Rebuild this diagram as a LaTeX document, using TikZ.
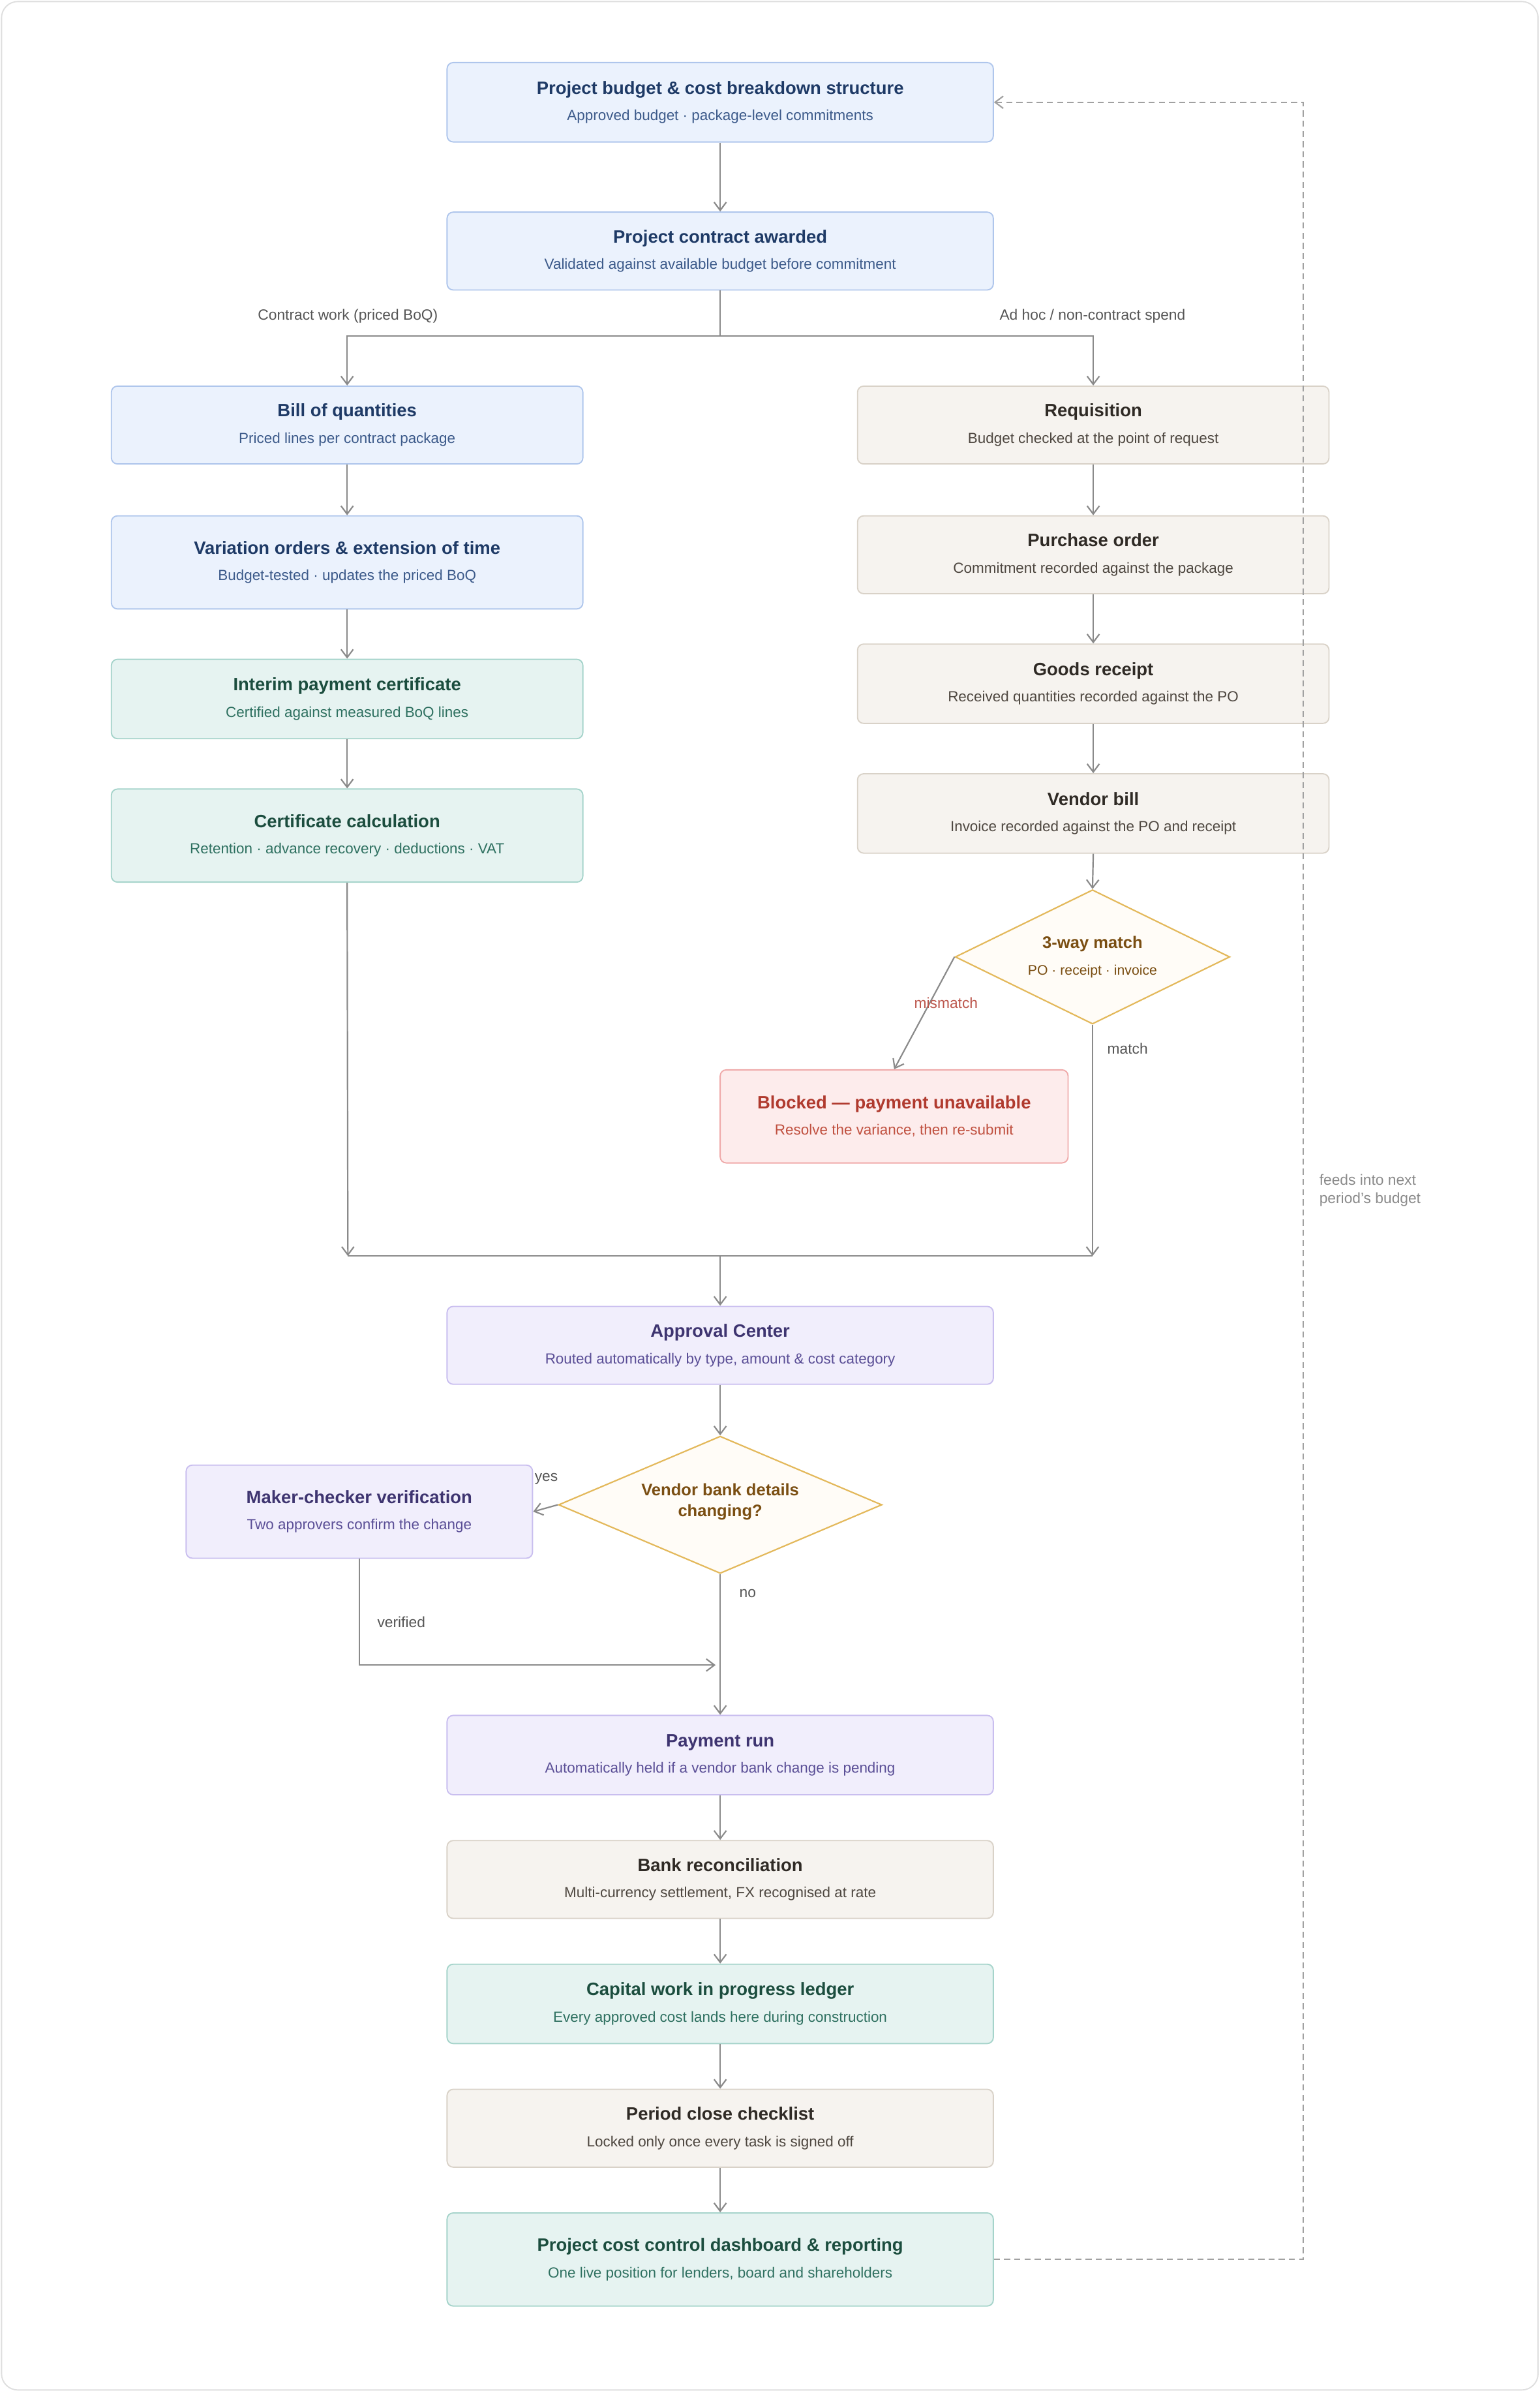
\documentclass[tikz,border=0pt]{standalone}
\usepackage{fontspec}
\setmainfont{Liberation Sans}
\usetikzlibrary{shapes.geometric,arrows.meta}
\definecolor{bF}{HTML}{EBF2FD}\definecolor{bD}{HTML}{AFC6EC}\definecolor{bT}{HTML}{1E3A66}\definecolor{bS}{HTML}{3C5A8A}
\definecolor{gF}{HTML}{E6F3F1}\definecolor{gD}{HTML}{A6D4CB}\definecolor{gT}{HTML}{1B4D3E}\definecolor{gS}{HTML}{2E7060}
\definecolor{eF}{HTML}{F6F3EF}\definecolor{eD}{HTML}{D9D2C8}\definecolor{eT}{HTML}{2F2A25}\definecolor{eS}{HTML}{4E4740}
\definecolor{pF}{HTML}{F1EEFC}\definecolor{pD}{HTML}{C9BEEF}\definecolor{pT}{HTML}{3E3470}\definecolor{pS}{HTML}{5A4E96}
\definecolor{rF}{HTML}{FDECEC}\definecolor{rD}{HTML}{EFA9A9}\definecolor{rT}{HTML}{B03A2E}\definecolor{rS}{HTML}{C0503F}
\definecolor{dF}{HTML}{FFFCF7}\definecolor{dD}{HTML}{E3B85A}\definecolor{dT}{HTML}{7A4E12}
\definecolor{ln}{HTML}{8A8A8A}\definecolor{lb}{HTML}{555555}
\newcommand{\bx}[8]{\node[box,fill=#6F,draw=#6D,minimum width={#4*0.75pt},minimum height={#5*0.75pt}] (#1) at (#2,#3)
 {{\fontsize{8.8}{11}\selectfont\bfseries\color{#6T}#7}\\[1pt]{\fontsize{7.2}{9}\selectfont\color{#6S}#8}};}
\begin{document}
\begin{tikzpicture}[x=0.75pt,y=-0.75pt,
 box/.style={rounded corners=3pt,line width=0.6pt,align=center,inner sep=0pt},
 dia/.style={diamond,fill=dF,draw=dD,line width=0.7pt,inner sep=0pt},
 ar/.style={draw=ln,line width=0.7pt,-{Straight Barb[length=4pt,width=6pt]}},
 pl/.style={draw=ln,line width=0.7pt},
 lab/.style={font=\fontsize{7.3}{9}\selectfont,text=lb}]
\useasboundingbox (0,0) rectangle (1009,1568);
\draw[draw=black!13,line width=0.6pt,rounded corners=8pt] (1,1) rectangle (1008,1566);
\bx{budget}{472}{67}{358}{52}{b}{Project budget \& cost breakdown structure}{Approved budget · package-level commitments}
\bx{contract}{472}{164.5}{358}{51}{b}{Project contract awarded}{Validated against available budget before commitment}
\bx{boq}{227.5}{278.5}{309}{51}{b}{Bill of quantities}{Priced lines per contract package}
\bx{vo}{227.5}{368.5}{309}{61}{b}{Variation orders \& extension of time}{Budget-tested · updates the priced BoQ}
\bx{ipc}{227.5}{458}{309}{52}{g}{Interim payment certificate}{Certified against measured BoQ lines}
\bx{cert}{227.5}{547.5}{309}{61}{g}{Certificate calculation}{Retention · advance recovery · deductions · VAT}
\bx{req}{716.5}{278.5}{309}{51}{e}{Requisition}{Budget checked at the point of request}
\bx{po}{716.5}{363.5}{309}{51}{e}{Purchase order}{Commitment recorded against the package}
\bx{gr}{716.5}{448}{309}{52}{e}{Goods receipt}{Received quantities recorded against the PO}
\bx{vb}{716.5}{533}{309}{52}{e}{Vendor bill}{Invoice recorded against the PO and receipt}
\node[dia,minimum width={180*0.75pt},minimum height={88*0.75pt}] (d1) at (716,627) {};
\node[align=center,text=dT,inner sep=0pt] (d1t) at (716,627)
 {{\fontsize{8.2}{10}\selectfont\bfseries 3-way match}\\[1pt]{\fontsize{6.8}{8}\selectfont PO · receipt · invoice}};
\bx{blk}{586}{731.5}{228}{61}{r}{Blocked — payment unavailable}{Resolve the variance, then re-submit}
\bx{appr}{472}{881.5}{358}{51}{p}{Approval Center}{Routed automatically by type, amount \& cost category}
\node[dia,minimum width={212*0.75pt},minimum height={90*0.75pt}] (d2) at (472,986) {};
\node[align=center,text=dT,inner sep=0pt,font=\fontsize{8.2}{10}\selectfont\bfseries] (d2t) at (472,984)
 {Vendor bank details\\ changing?};
\bx{mk}{235.5}{990.5}{227}{61}{p}{Maker-checker verification}{Two approvers confirm the change}
\bx{pay}{472}{1150}{358}{52}{p}{Payment run}{Automatically held if a vendor bank change is pending}
\bx{bank}{472}{1231.5}{358}{51}{e}{Bank reconciliation}{Multi-currency settlement, FX recognised at rate}
\bx{cwip}{472}{1313}{358}{52}{g}{Capital work in progress ledger}{Every approved cost lands here during construction}
\bx{close}{472}{1394.5}{358}{51}{e}{Period close checklist}{Locked only once every task is signed off}
\bx{dash}{472}{1480.5}{358}{61}{g}{Project cost control dashboard \& reporting}{One live position for lenders, board and shareholders}
\coordinate (split) at (472,220);
\coordinate (m1) at (228,823);\coordinate (m2) at (716,823);\coordinate (mm) at (472,823);
\coordinate (j0) at (235.5,1091);\coordinate (j1) at (469,1091);
\coordinate (fb1) at (854,1480.5);\coordinate (fb2) at (854,67);
\draw[ar] (budget) -- (contract);
\draw[pl] (contract.south) -- (split);
\draw[ar] (split) -| (boq.north);
\draw[ar] (split) -| (req.north);
\node[lab] (l1) at (228,207) {Contract work (priced BoQ)};
\node[lab] (l2) at (716,207) {Ad hoc / non-contract spend};
\draw[ar] (boq) -- (vo);\draw[ar] (vo) -- (ipc);\draw[ar] (ipc) -- (cert);
\draw[ar] (req) -- (po);\draw[ar] (po) -- (gr);\draw[ar] (gr) -- (vb);
\draw[ar] (vb.south) -- (d1.north);
\draw[ar] (d1.west) -- (blk.north);
\node[lab,text=rT!85] (lm) at (620,657) {mismatch};
\draw[ar] (d1.south) -- (m2);
\node[lab] (lmt) at (739,687) {match};
\draw[ar] (cert.south) -- (m1);
\draw[pl] (m1) -- (m2);
\draw[ar] (mm) -- (appr.north);
\draw[ar] (appr.south) -- (d2.north);
\draw[ar] (d2.west) -- (mk.east);
\node[lab] (ly) at (358,969) {yes};
\draw[ar] (d2.south) -- (pay.north);
\node[lab] (ln) at (490,1044) {no};
\draw[ar] (mk.south) -- (j0) -- (j1);
\node[lab] (lv) at (263,1063) {verified};
\draw[ar] (pay) -- (bank);\draw[ar] (bank) -- (cwip);\draw[ar] (cwip) -- (close);\draw[ar] (close) -- (dash);
\draw[ar,dashed,dash pattern=on 3pt off 2pt,draw=ln!80] (dash.east) -- (fb1) -- (fb2) -- (budget.east);
\node[lab,text=ln,align=left,anchor=west] (lf) at (860,780) {feeds into next\\period's budget};
\end{tikzpicture}
\end{document}
